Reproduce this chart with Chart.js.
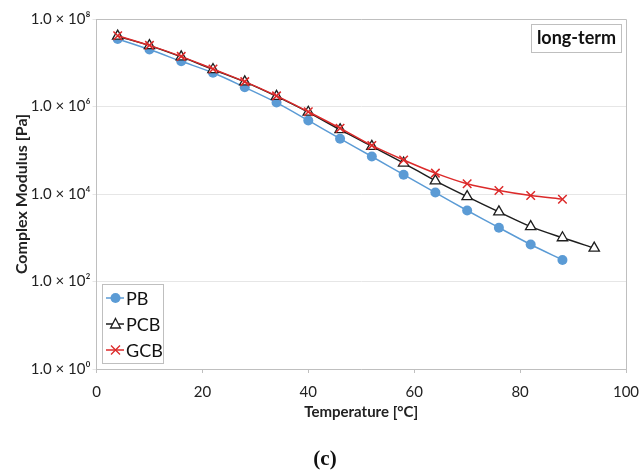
<!DOCTYPE html>
<html>
<head>
<meta charset="utf-8">
<script src="https://cdn.jsdelivr.net/npm/chart.js@4.4.1/dist/chart.umd.min.js"></script>
<style>
  body { margin: 0; background: #fff; }
</style>
</head>
<body>
<canvas id="modulusChart" width="640" height="475"></canvas>
<script>
// temperatures [°C]
const tempPB = [4, 10, 16, 22, 28, 34, 40, 46, 52, 58, 64, 70, 76, 82, 88];
const tempPCB = [4, 10, 16, 22, 28, 34, 40, 46, 52, 58, 64, 70, 76, 82, 88, 94];
const tempGCB = [4, 10, 16, 22, 28, 34, 40, 46, 52, 58, 64, 70, 76, 82, 88];

// complex modulus [Pa]
const modulusPB = [3.5e7, 2.0e7, 1.08e7, 5.9e6, 2.75e6, 1.23e6, 4.8e5, 1.84e5, 7.2e4, 2.76e4, 1.08e4, 4.2e3, 1.7e3, 700, 310];
const modulusPCB = [4.05e7, 2.46e7, 1.36e7, 7.0e6, 3.65e6, 1.7e6, 7.4e5, 2.95e5, 1.23e5, 5.1e4, 2.0e4, 8.7e3, 3.9e3, 1.8e3, 1.0e3, 580];
const modulusGCB = [4.15e7, 2.5e7, 1.4e7, 7.2e6, 3.7e6, 1.75e6, 7.6e5, 3.2e5, 1.29e5, 6.0e4, 3.0e4, 1.71e4, 1.2e4, 9.2e3, 7.6e3];

const seriesNames = ['PB', 'PCB', 'GCB'];
const yTickExponents = [0, 2, 4, 6, 8];
const xTicks = [0, 20, 40, 60, 80, 100];
const boxLabel = 'long-term';
const panelLabel = '(c)';

const BLUE = '#5b9bd5';
const BLACK = '#1e1e1e';
const RED = '#dc2a2a';
const AXIS = '#bfbfbf';
const GRID = '#e6e6e6';
const FONT = 'Lato, "Open Sans", sans-serif';

const sup = { 0: '\u2070', 2: '\u00b2', 4: '\u2074', 6: '\u2076', 8: '\u2078' };

function toPoints(xs, ys) {
    return xs.map((x, i) => ({ x: x, y: ys[i] }));
}

function drawMarker(ctx, style, x, y, color) {
    ctx.save();
    ctx.strokeStyle = color;
    ctx.lineWidth = 1.3;
    if (style === 'circle') {
        ctx.fillStyle = color;
        ctx.beginPath();
        ctx.arc(x, y, 5, 0, Math.PI * 2);
        ctx.fill();
    } else if (style === 'triangle') {
        ctx.fillStyle = '#fff';
        ctx.beginPath();
        ctx.moveTo(x, y - 5.5);
        ctx.lineTo(x + 5, y + 4);
        ctx.lineTo(x - 5, y + 4);
        ctx.closePath();
        ctx.fill();
        ctx.stroke();
    } else {
        ctx.beginPath();
        ctx.moveTo(x - 4.5, y - 4.5);
        ctx.lineTo(x + 4.5, y + 4.5);
        ctx.moveTo(x + 4.5, y - 4.5);
        ctx.lineTo(x - 4.5, y + 4.5);
        ctx.stroke();
    }
    ctx.restore();
}

// plot frame, legend box, "long-term" box and panel label
const decorations = {
    id: 'decorations',
    beforeDatasetsDraw(chart) {
        const { ctx, chartArea: a } = chart;
        ctx.save();
        ctx.strokeStyle = AXIS;
        ctx.lineWidth = 1;
        ctx.beginPath();
        ctx.moveTo(a.left, a.top + 0.5);
        ctx.lineTo(a.right + 0.5, a.top + 0.5);
        ctx.lineTo(a.right + 0.5, a.bottom);
        ctx.stroke();
        ctx.restore();
    },
    afterDraw(chart) {
        const { ctx } = chart;
        ctx.save();

        // legend
        ctx.fillStyle = '#fff';
        ctx.fillRect(102.5, 284.5, 61, 79);
        ctx.strokeStyle = AXIS;
        ctx.lineWidth = 1;
        ctx.strokeRect(102.5, 284.5, 61, 79);
        const colors = [BLUE, BLACK, RED];
        const styles = ['circle', 'triangle', 'crossRot'];
        const rows = [298, 324, 350];
        ctx.font = '18px ' + FONT;
        ctx.textBaseline = 'middle';
        ctx.textAlign = 'left';
        seriesNames.forEach((name, i) => {
            ctx.strokeStyle = colors[i];
            ctx.lineWidth = 1.5;
            ctx.beginPath();
            ctx.moveTo(106, rows[i]);
            ctx.lineTo(124, rows[i]);
            ctx.stroke();
            drawMarker(ctx, styles[i], 115.5, rows[i], colors[i]);
            ctx.fillStyle = '#111';
            ctx.fillText(name, 126, rows[i] + 1);
        });

        // long-term box
        ctx.strokeStyle = AXIS;
        ctx.lineWidth = 1;
        ctx.strokeRect(531.5, 24.5, 90, 28);
        ctx.fillStyle = '#111';
        ctx.font = 'bold 18px ' + FONT;
        ctx.textAlign = 'center';
        ctx.fillText(boxLabel, 576.5, 38.5);

        // panel label
        ctx.font = 'bold 21px "Liberation Serif", "DejaVu Serif", serif';
        ctx.fillText(panelLabel, 325, 460);
        ctx.restore();
    }
};

function drawChart() {
    const ctx = document.getElementById('modulusChart').getContext('2d');
    new Chart(ctx, {
        type: 'line',
        data: {
            datasets: [{
                label: seriesNames[0],
                data: toPoints(tempPB, modulusPB),
                borderColor: BLUE,
                backgroundColor: BLUE,
                borderWidth: 1.5,
                pointStyle: 'circle',
                pointRadius: 5,
                pointBorderWidth: 0,
                tension: 0.3,
                order: 2
            }, {
                label: seriesNames[1],
                data: toPoints(tempPCB, modulusPCB),
                borderColor: BLACK,
                backgroundColor: '#fff',
                borderWidth: 1.5,
                pointStyle: 'triangle',
                pointRadius: 6,
                pointBorderWidth: 1.3,
                tension: 0.3,
                order: 1
            }, {
                label: seriesNames[2],
                data: toPoints(tempGCB, modulusGCB),
                borderColor: RED,
                backgroundColor: RED,
                borderWidth: 1.5,
                pointStyle: 'crossRot',
                pointRadius: 6,
                pointBorderWidth: 1.5,
                tension: 0.3,
                order: 0
            }]
        },
        options: {
            responsive: false,
            animation: false,
            layout: { padding: { left: 0, right: 14, top: 19, bottom: 51 } },
            plugins: {
                legend: { display: false },
                tooltip: { enabled: false }
            },
            scales: {
                x: {
                    type: 'linear',
                    min: 0,
                    max: 100,
                    afterBuildTicks: (scale) => { scale.ticks = xTicks.map(v => ({ value: v })); },
                    afterFit: (scale) => {
                        scale.height = 55;
                        scale.paddingLeft = 0;
                        scale.paddingRight = 0;
                    },
                    grid: { drawOnChartArea: false, drawTicks: true, tickLength: 4, color: AXIS },
                    border: { color: AXIS },
                    ticks: { color: '#222', padding: 10, font: { family: FONT, size: 15 }, maxRotation: 0 },
                    title: {
                        display: true,
                        text: 'Temperature [°C]',
                        color: '#222',
                        font: { family: FONT, size: 15, weight: 'bold' },
                        padding: { top: 0, bottom: 3 }
                    }
                },
                y: {
                    type: 'logarithmic',
                    min: 1,
                    max: 1e8,
                    afterBuildTicks: (scale) => { scale.ticks = yTickExponents.map(e => ({ value: Math.pow(10, e) })); },
                    afterFit: (scale) => {
                        scale.width = 96.5;
                        scale.paddingTop = 0;
                        scale.paddingBottom = 0;
                    },
                    grid: { color: GRID, drawTicks: true, tickLength: 4 },
                    border: { color: AXIS },
                    ticks: {
                        color: '#222',
                        padding: 2,
                        font: { family: FONT, size: 15 },
                        callback: (value) => {
                            const e = Math.round(Math.log10(value));
                            return '1.0 \u00d7 10' + sup[e];
                        }
                    },
                    title: {
                        display: true,
                        text: 'Complex Modulus [Pa]',
                        color: '#222',
                        font: { family: FONT, size: 16, weight: 'bold' },
                        padding: { top: 12, bottom: 0 }
                    }
                }
            }
        },
        plugins: [decorations]
    });
}

document.addEventListener('DOMContentLoaded', function() {
    drawChart();
});
</script>
</body>
</html>
